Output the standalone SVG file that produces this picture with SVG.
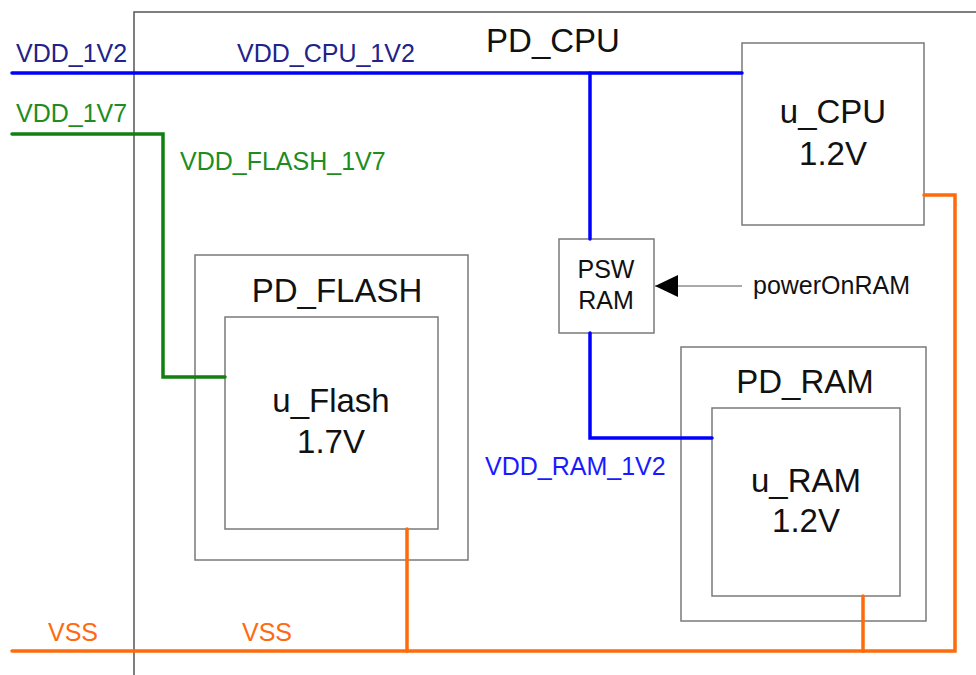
<svg xmlns="http://www.w3.org/2000/svg" width="976" height="675" viewBox="0 0 976 675">
<style>
text{font-family:"Liberation Sans",Arial,sans-serif;}
.t{font-size:33px;fill:#111;text-anchor:middle;}
.s{font-size:25px;fill:#111;text-anchor:middle;}
.lbl{font-size:25px;}
.navy{fill:#22228a;}
.grn{fill:#1e8c1e;}
.blu{fill:#1a1aff;}
.org{fill:#ff6a10;}
.box{fill:#fff;stroke:#7a7a7a;stroke-width:1.5;}
.dom{fill:none;stroke:#555;stroke-width:1.5;}
.w{fill:none;stroke-width:3.5;stroke-linejoin:miter;stroke-linecap:round;}
.wb{stroke:#0000ff;}
.wg{stroke:#108010;}
.wo{stroke:#ff6a0a;}
</style>
<defs>
<marker id="ah" markerWidth="24" markerHeight="22" refX="23" refY="11" orient="auto" markerUnits="userSpaceOnUse">
<path d="M0,0 L23,11 L0,22 Z" fill="#000"/>
</marker>
</defs>
<rect width="976" height="675" fill="#fff"/>
<g id="PD_CPU">
<rect class="dom" x="134" y="12" width="900" height="700"/>
<text class="t" x="553" y="52">PD_CPU</text>
</g>
<g id="PD_FLASH">
<rect class="box" x="195" y="255" width="273" height="305"/>
<text class="t" x="337" y="302">PD_FLASH</text>
</g>
<g id="u_Flash">
<rect class="box" x="225" y="317" width="213" height="212"/>
<text class="t" x="331" y="412">u_Flash</text>
<text class="t" x="331" y="453">1.7V</text>
</g>
<g id="u_CPU">
<rect class="box" x="742" y="43" width="182" height="182"/>
<text class="t" x="833" y="123">u_CPU</text>
<text class="t" x="833" y="165">1.2V</text>
</g>
<g id="PSW_RAM">
<rect class="box" x="559" y="239" width="95" height="94"/>
<text class="s" x="606" y="278">PSW</text>
<text class="s" x="606" y="309">RAM</text>
</g>
<g id="PD_RAM">
<rect class="box" x="681" y="347" width="245" height="274"/>
<text class="t" x="805" y="393">PD_RAM</text>
</g>
<g id="u_RAM">
<rect class="box" x="712" y="408" width="188" height="188"/>
<text class="t" x="806" y="492">u_RAM</text>
<text class="t" x="806" y="532">1.2V</text>
</g>
<g id="connectors">
<path class="w wb" d="M12,73 H742"/>
<path class="w wb" d="M590,73 V239"/>
<path class="w wb" d="M590,333 V438 H712"/>
<path class="w wg" d="M12,134 H163 V377 H225"/>
<path class="w wo" d="M12,651 H955 V195 H924"/>
<path class="w wo" d="M407,529 V651"/>
<path class="w wo" d="M863,596 V651"/>
<path d="M742,286 H655" stroke="#555" stroke-width="1" fill="none" marker-end="url(#ah)"/>
</g>
<g id="labels">
<text class="lbl navy" x="16" y="62">VDD_1V2</text>
<text class="lbl navy" x="237" y="62">VDD_CPU_1V2</text>
<text class="lbl grn" x="16" y="122">VDD_1V7</text>
<text class="lbl grn" x="180" y="170">VDD_FLASH_1V7</text>
<text class="lbl blu" x="485" y="475">VDD_RAM_1V2</text>
<text class="lbl" x="753" y="294" fill="#111">powerOnRAM</text>
<text class="lbl org" x="48" y="641">VSS</text>
<text class="lbl org" x="242" y="641">VSS</text>
</g>
</svg>
